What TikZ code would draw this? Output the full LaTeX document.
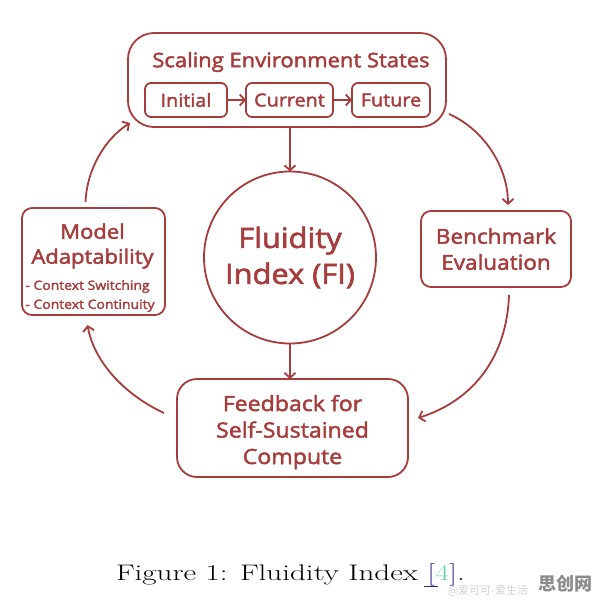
\documentclass[tikz,border=0pt]{standalone}
\usepackage{fontspec}
\setsansfont{Open Sans}[FakeBold=2.2,FakeStretch=1.1]
\newfontfamily\cjk{Noto Sans CJK SC}
\usetikzlibrary{arrows.meta,calc}
\definecolor{dred}{RGB}{166,60,60}
\definecolor{linkblue}{RGB}{60,50,140}
\definecolor{linkcyan}{RGB}{110,210,175}
\begin{document}
\begin{tikzpicture}[x=1pt,y=-1pt,
  every node/.style={inner sep=0pt,outer sep=0pt},
  box/.style={draw=dred,line width=1.8pt,rounded corners=10pt,text=dred,font=\sffamily,align=center},
  lab/.style={text=dred,font=\sffamily,align=center},
  arr/.style={draw=dred,line width=1.8pt,-{Straight Barb[length=5pt,width=11pt,line width=1.8pt]}},
  ]
\useasboundingbox[fill=white] (0,0) rectangle (596,606);
% top box
\node[box,rounded corners=26pt,minimum width=318pt,minimum height=94pt] (top) at (287,80) {};
\node[lab,font=\sffamily\fontsize{20}{24}\selectfont] (title) at (291,62) {Scaling Environment States};
\node[box,rounded corners=6pt,minimum width=82pt,minimum height=34pt,font=\sffamily\fontsize{18}{22}\selectfont] (init) at (186,100) {Initial};
\node[box,rounded corners=6pt,minimum width=87pt,minimum height=34pt,font=\sffamily\fontsize{18}{22}\selectfont] (cur) at (289.5,100) {Current};
\node[box,rounded corners=6pt,minimum width=78pt,minimum height=34pt,font=\sffamily\fontsize{18}{22}\selectfont] (fut) at (391,100) {Future};
\draw[arr] (init) -- (cur);
\draw[arr] (cur) -- (fut);
% circle
\node[box,circle,minimum size=172pt,font=\sffamily\fontsize{28}{36}\selectfont] (fi) at (290,257.5) {Fluidity\\Index (FI)};
% benchmark
\node[box,minimum width=150pt,minimum height=76pt,font=\sffamily\fontsize{20.5}{26}\selectfont] (bench) at (496,249) {Benchmark\\Evaluation};
% feedback
\node[box,rounded corners=20pt,minimum width=231pt,minimum height=98pt] (feed) at (292.5,428) {};
\node[lab,font=\sffamily\fontsize{21}{26.5}\selectfont] (ftext) at (292.5,432) {Feedback for\\Self-Sustained\\Compute};
% model
\node[box,minimum width=143pt,minimum height=107pt] (model) at (93.5,261.5) {};
\node[lab,font=\sffamily\fontsize{20}{25}\selectfont] (mtitle) at (92.5,246) {Model\\Adaptability};
\node[lab,font=\sffamily\fontsize{12.7}{19}\selectfont,align=left] (mitems) at (90,296) {- Context Switching\\- Context Continuity};
% straight arrows
\draw[arr] (top.south -| fi.north) -- (fi.north);
\draw[arr] (fi.south) -- (feed.north -| fi.south);
% curved arrows
\coordinate (a1) at ($(top.south east)+(3,-13)$);
\coordinate (b1) at ($(bench.north)+(12,-6)$);
\draw[arr] (a1) .. controls (485,130) and (508,168) .. (b1);
\coordinate (a2) at ($(bench.south)+(13,8)$);
\coordinate (b2) at ($(feed.east)+(10,-10)$);
\draw[arr] (a2) .. controls (507,355) and (475,400) .. (b2);
\coordinate (a3) at ($(feed.west)+(-13,-15)$);
\coordinate (b3) at ($(model.south)+(-6,10)$);
\draw[arr] (a3) .. controls (125,395) and (94,362) .. (b3);
\coordinate (a4) at ($(model.north)+(-8,-6)$);
\coordinate (b4) at ($(top.south west)+(2,-4)$);
\draw[arr] (a4) .. controls (87,168) and (106,138) .. (b4);
% caption
\node[anchor=base west,font=\fontsize{22.5}{26}\selectfont] (cap) at (116,580) {\scalebox{1.38}[1]{Figure 1: Fluidity Index \textcolor{linkblue}{[}\textcolor{linkcyan}{4}\textcolor{linkblue}{]}.}};
\draw[linkblue!80!black,line width=0.8pt] ([xshift=-8pt,yshift=-6pt]cap.base -| 432,0) -- ++(14,0);
% watermark
\node[anchor=base east,font=\cjk\bfseries\fontsize{18}{20}\selectfont,text=black!45] (wm) at (592,590) {思创网};
\node[anchor=base east,font=\cjk\fontsize{11}{13}\selectfont,text=black!18] (wm2) at (528,594) {@爱可可-爱生活};
\end{tikzpicture}
\end{document}
